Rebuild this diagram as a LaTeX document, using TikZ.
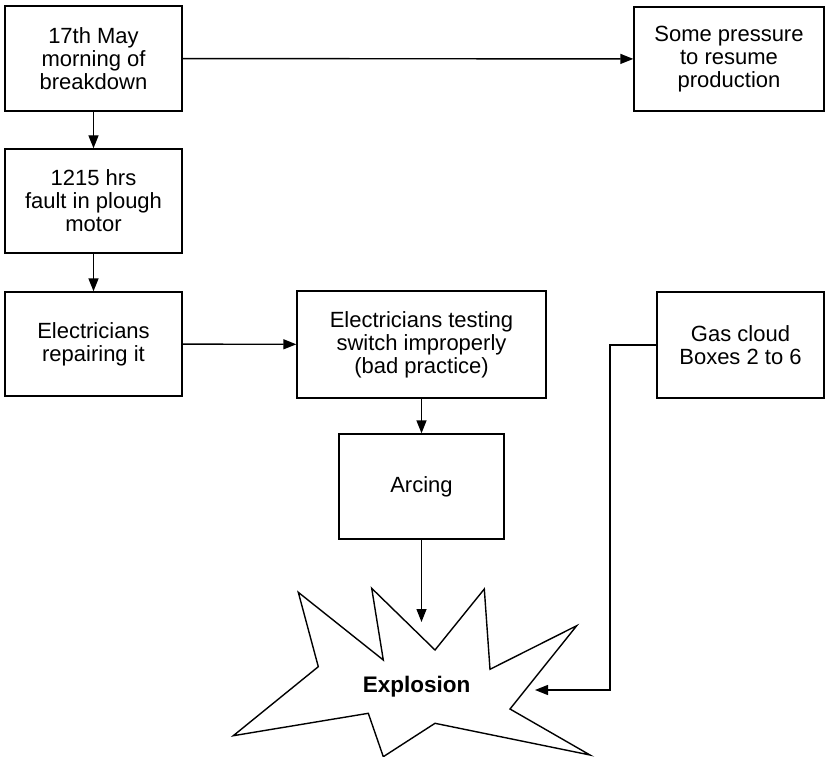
\documentclass[tikz,border=0pt]{standalone}
\usepackage{fontspec}
\setmainfont{Liberation Sans}
\usetikzlibrary{arrows.meta}
\begin{document}
\begin{tikzpicture}[x=1pt,y=-1pt,
  line width=1.4pt,
  font=\fontsize{22}{23}\selectfont,
  box/.style={draw, rectangle, inner sep=0pt, align=center},
  flow/.style={-{Triangle[length=13pt,width=10pt]}}]
\useasboundingbox (0,0) rectangle (825,757);

% event boxes
\node[box, minimum width=177pt, minimum height=105pt] (may) at (93.5,58.5)
  {17th May\\morning of\\breakdown};
\node[box, minimum width=177pt, minimum height=104pt] (fault) at (93.5,201)
  {1215 hrs\\fault in plough\\motor};
\node[box, minimum width=177pt, minimum height=104pt] (repair) at (93.5,344)
  {Electricians\\repairing it};
\node[box, minimum width=190pt, minimum height=104pt] (press) at (729,59)
  {Some pressure\\to resume\\production};
\node[box, minimum width=249pt, minimum height=107pt] (test) at (421.5,344.5)
  {Electricians testing\\switch improperly\\(bad practice)};
\node[box, minimum width=165pt, minimum height=105pt] (arc) at (421.5,486.5)
  {Arcing};
\node[box, minimum width=167pt, minimum height=106pt] (gas) at (740.5,345)
  {Gas cloud\\Boxes 2 to 6};

% explosion burst
\draw (298.3,592.3) -- (383.3,660) -- (371.7,588.3) -- (435,650)
  -- (484.3,589) -- (490,669.3) -- (576.7,625.7) -- (510,709)
  -- (590,755) -- (435,723.3) -- (383.3,756.7) -- (368.3,713.3)
  -- (233.3,735.7) -- (318.3,666.7) -- cycle;
\node[font=\fontsize{22.5}{23}\selectfont\bfseries] (boom) at (416.7,686.7) {Explosion};

% arrow ends on the burst outline
\coordinate (hitA) at (421.5,622);
\coordinate (bend) at (610,690);
\coordinate (hitB) at (535,690);

% connectors
\draw[flow] (may) -- (press);
\draw[flow] (may) -- (fault);
\draw[flow] (fault) -- (repair);
\draw[flow] (repair) -- (test);
\draw[flow] (test) -- (arc);
\draw[flow] (arc.south) -- (hitA);
\draw[flow] (gas.west) -| (bend) -- (hitB);
\end{tikzpicture}
\end{document}
